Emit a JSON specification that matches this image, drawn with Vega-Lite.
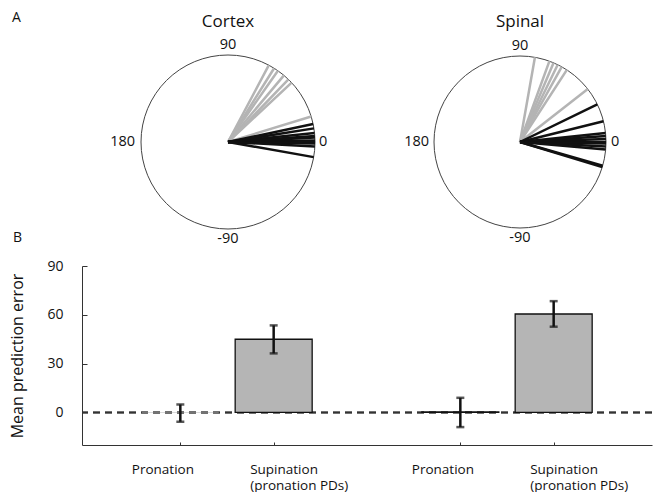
{
  "$schema": "https://vega.github.io/schema/vega-lite/v6.json",
  "padding": {"left": 9, "top": 11, "right": 0, "bottom": 0},
  "config": {
    "view": {"stroke": null},
    "font": "Open Sans",
    "title": {"fontWeight": "normal", "color": "#111"},
    "axis": {"labelColor": "#111", "titleColor": "#111", "domainColor": "#333", "tickColor": "#333", "grid": false}
  },
  "spacing": -21,
  "vconcat": [
    {
      "title": {"text": "A", "anchor": "start", "fontSize": 14, "dx": -70, "dy": 16},
      "spacing": 26,
      "hconcat": [
        {
          "width": 292,
          "height": 220,
          "title": {"text": "Cortex", "fontSize": 17, "offset": 1},
          "layer": [
            {
              "data": {"values": [{"start": 90, "end": -270}]},
              "mark": {"type": "arc", "radius": 87, "fill": "white", "stroke": "#444", "strokeWidth": 1},
              "encoding": {
                "theta": {"field": "start", "type": "quantitative", "stack": false, "scale": {"type": "linear", "domain": [90, -270], "range": [0, 6.2832], "zero": false, "nice": false}},
                "theta2": {"field": "end"}
              }
            },
            {
              "data": {"values": [
                {"angle": 62, "condition": "Supination"},
                {"angle": 58, "condition": "Supination"},
                {"angle": 55, "condition": "Supination"},
                {"angle": 50, "condition": "Supination"},
                {"angle": 46, "condition": "Supination"},
                {"angle": 43, "condition": "Supination"},
                {"angle": 17, "condition": "Supination"},
                {"angle": 12, "condition": "Pronation"},
                {"angle": 9, "condition": "Pronation"},
                {"angle": 6, "condition": "Pronation"},
                {"angle": 4, "condition": "Pronation"},
                {"angle": 3, "condition": "Pronation"},
                {"angle": 1, "condition": "Pronation"},
                {"angle": 0, "condition": "Pronation"},
                {"angle": -1, "condition": "Pronation"},
                {"angle": -3, "condition": "Pronation"},
                {"angle": -10, "condition": "Pronation"}
              ]},
              "mark": {"type": "arc", "radius": 87, "filled": false, "strokeWidth": 2.5},
              "encoding": {
                "theta": {"field": "angle", "type": "quantitative", "stack": false, "scale": {"type": "linear", "domain": [90, -270], "range": [0, 6.2832], "zero": false, "nice": false}},
                "theta2": {"field": "angle"},
                "stroke": {"field": "condition", "type": "nominal", "scale": {"domain": ["Pronation", "Supination"], "range": ["#111111", "#b4b4b4"]}, "legend": null}
              }
            },
            {
              "data": {"values": [{"angle": 90, "label": "90"}, {"angle": -90, "label": "-90"}]},
              "mark": {"type": "text", "radius": 97, "fontSize": 14.5, "color": "#111", "align": "center", "baseline": "middle"},
              "encoding": {
                "theta": {"field": "angle", "type": "quantitative", "stack": false, "scale": {"type": "linear", "domain": [90, -270], "range": [0, 6.2832], "zero": false, "nice": false}},
                "text": {"field": "label"}
              }
            },
            {
              "data": {"values": [{"angle": 0, "label": "0"}]},
              "mark": {"type": "text", "radius": 91, "fontSize": 14.5, "color": "#111", "align": "left", "baseline": "middle"},
              "encoding": {
                "theta": {"field": "angle", "type": "quantitative", "stack": false, "scale": {"type": "linear", "domain": [90, -270], "range": [0, 6.2832], "zero": false, "nice": false}},
                "text": {"field": "label"}
              }
            },
            {
              "data": {"values": [{"angle": 180, "label": "180"}]},
              "mark": {"type": "text", "radius": 93, "fontSize": 14.5, "color": "#111", "align": "right", "baseline": "middle"},
              "encoding": {
                "theta": {"field": "angle", "type": "quantitative", "stack": false, "scale": {"type": "linear", "domain": [90, -270], "range": [0, 6.2832], "zero": false, "nice": false}},
                "text": {"field": "label"}
              }
            }
          ]
        },
        {
          "width": 240,
          "height": 220,
          "title": {"text": "Spinal", "fontSize": 17, "offset": 1},
          "layer": [
            {
              "data": {"values": [{"start": 90, "end": -270}]},
              "mark": {"type": "arc", "radius": 86, "fill": "white", "stroke": "#444", "strokeWidth": 1},
              "encoding": {
                "theta": {"field": "start", "type": "quantitative", "stack": false, "scale": {"type": "linear", "domain": [90, -270], "range": [0, 6.2832], "zero": false, "nice": false}},
                "theta2": {"field": "end"}
              }
            },
            {
              "data": {"values": [
                {"angle": 80, "condition": "Supination"},
                {"angle": 70, "condition": "Supination"},
                {"angle": 67, "condition": "Supination"},
                {"angle": 64, "condition": "Supination"},
                {"angle": 61, "condition": "Supination"},
                {"angle": 57, "condition": "Supination"},
                {"angle": 38, "condition": "Supination"},
                {"angle": 26, "condition": "Pronation"},
                {"angle": 14, "condition": "Pronation"},
                {"angle": 6, "condition": "Pronation"},
                {"angle": 4, "condition": "Pronation"},
                {"angle": 2, "condition": "Pronation"},
                {"angle": 0, "condition": "Pronation"},
                {"angle": -1, "condition": "Pronation"},
                {"angle": -3, "condition": "Pronation"},
                {"angle": -5, "condition": "Pronation"},
                {"angle": -16, "condition": "Pronation"},
                {"angle": -17, "condition": "Pronation"}
              ]},
              "mark": {"type": "arc", "radius": 86, "filled": false, "strokeWidth": 2.5},
              "encoding": {
                "theta": {"field": "angle", "type": "quantitative", "stack": false, "scale": {"type": "linear", "domain": [90, -270], "range": [0, 6.2832], "zero": false, "nice": false}},
                "theta2": {"field": "angle"},
                "stroke": {"field": "condition", "type": "nominal", "scale": {"domain": ["Pronation", "Supination"], "range": ["#111111", "#b4b4b4"]}, "legend": null}
              }
            },
            {
              "data": {"values": [{"angle": 90, "label": "90"}, {"angle": -90, "label": "-90"}]},
              "mark": {"type": "text", "radius": 96, "fontSize": 14.5, "color": "#111", "align": "center", "baseline": "middle"},
              "encoding": {
                "theta": {"field": "angle", "type": "quantitative", "stack": false, "scale": {"type": "linear", "domain": [90, -270], "range": [0, 6.2832], "zero": false, "nice": false}},
                "text": {"field": "label"}
              }
            },
            {
              "data": {"values": [{"angle": 0, "label": "0"}]},
              "mark": {"type": "text", "radius": 91, "fontSize": 14.5, "color": "#111", "align": "left", "baseline": "middle"},
              "encoding": {
                "theta": {"field": "angle", "type": "quantitative", "stack": false, "scale": {"type": "linear", "domain": [90, -270], "range": [0, 6.2832], "zero": false, "nice": false}},
                "text": {"field": "label"}
              }
            },
            {
              "data": {"values": [{"angle": 180, "label": "180"}]},
              "mark": {"type": "text", "radius": 91, "fontSize": 14.5, "color": "#111", "align": "right", "baseline": "middle"},
              "encoding": {
                "theta": {"field": "angle", "type": "quantitative", "stack": false, "scale": {"type": "linear", "domain": [90, -270], "range": [0, 6.2832], "zero": false, "nice": false}},
                "text": {"field": "label"}
              }
            }
          ]
        }
      ]
    },
    {
      "width": 570,
      "height": 179,
      "title": {"text": "B", "anchor": "start", "fontSize": 14, "offset": 14, "dx": 3},
      "data": {"values": [
        {"region": "Cortex", "condition": "Pronation", "pos": 1, "mean": -0.4, "lo": -5.7, "hi": 4.9},
        {"region": "Cortex", "condition": "Supination (pronation PDs)", "pos": 2, "mean": 45, "lo": 36.3, "hi": 53.5},
        {"region": "Spinal", "condition": "Pronation", "pos": 4, "mean": 0.3, "lo": -9, "hi": 9},
        {"region": "Spinal", "condition": "Supination (pronation PDs)", "pos": 5, "mean": 60.5, "lo": 52.7, "hi": 68.4}
      ]},
      "layer": [
        {
          "mark": {"type": "rule", "strokeDash": [7, 5], "strokeWidth": 1.5, "color": "#333"},
          "encoding": {
            "y": {"datum": 0, "type": "quantitative", "scale": {"domain": [-20, 90], "nice": false, "zero": false}}
          }
        },
        {
          "mark": {"type": "bar", "size": 77, "fill": "#b5b5b5", "stroke": "#111", "strokeWidth": 1.3},
          "encoding": {
            "x": {
              "field": "pos", "type": "quantitative",
              "scale": {"domain": [0, 6], "nice": false, "zero": false},
              "axis": {
                "title": null,
                "values": [1, 2, 4, 5],
                "labelExpr": "datum.value == 1 || datum.value == 4 ? 'Pronation' : ['Supination', '(pronation PDs)']",
                "labelFontSize": 13.5,
                "labelAlign": "left",
                "labelBaseline": "top",
                "labelLineHeight": 16,
                "labelOffset": {"condition": {"test": "datum.value == 1 || datum.value == 4", "value": -49}, "value": -24},
                "labelPadding": 20,
                "tickSize": -3,
                "labelFlush": false,
                "labelOverlap": false
              }
            },
            "y": {
              "field": "mean", "type": "quantitative",
              "scale": {"domain": [-20, 90], "nice": false, "zero": false},
              "axis": {
                "title": "Mean prediction error",
                "titleFontSize": 16,
                "titleFontWeight": "normal",
                "titlePadding": 21,
                "values": [0, 30, 60, 90],
                "labelFontSize": 14,
                "labelPadding": 24,
                "tickSize": -5
              }
            },
            "strokeOpacity": {"condition": {"test": "datum.mean < 0", "value": 0}, "value": 1}
          }
        },
        {
          "mark": {"type": "rule", "strokeWidth": 2.5, "color": "#111"},
          "encoding": {
            "x": {"field": "pos", "type": "quantitative"},
            "y": {"field": "lo", "type": "quantitative"},
            "y2": {"field": "hi"}
          }
        },
        {
          "mark": {"type": "tick", "orient": "horizontal", "size": 8, "thickness": 2.5, "color": "#111"},
          "encoding": {
            "x": {"field": "pos", "type": "quantitative"},
            "y": {"field": "lo", "type": "quantitative"}
          }
        },
        {
          "mark": {"type": "tick", "orient": "horizontal", "size": 8, "thickness": 2.5, "color": "#111"},
          "encoding": {
            "x": {"field": "pos", "type": "quantitative"},
            "y": {"field": "hi", "type": "quantitative"}
          }
        }
      ]
    }
  ]
}
